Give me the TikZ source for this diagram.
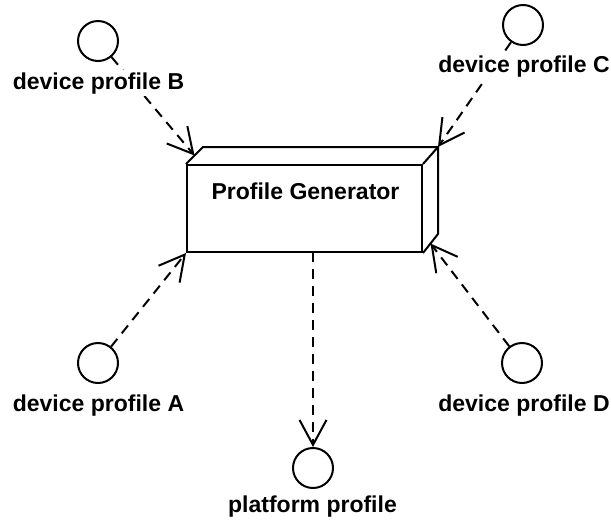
\documentclass[tikz,border=0pt]{standalone}
\usepackage{fontspec}
\setmainfont{Liberation Sans}
\usetikzlibrary{arrows.meta,calc,backgrounds}
\begin{document}
\begin{tikzpicture}[x=1pt,y=-1pt,
  every node/.style={font=\fontsize{23}{27}\selectfont\bfseries},
  iface/.style={draw,circle,line width=2pt,minimum size=40pt,inner sep=0pt},
  lbl/.style={fill=white,inner sep=2pt,anchor=base},
  dep/.style={line width=2pt,dash pattern=on 10pt off 7pt,
    -{Straight Barb[length=25pt,width=27pt,line width=2pt]}},
  edge3d/.style={line width=2pt,line join=miter}]
\useasboundingbox (0,0) rectangle (611,520);
% box
\node[draw,edge3d,fill=white,minimum width=235pt,minimum height=87pt,inner sep=0pt] (box) at (304.5,208.5) {};
\draw[edge3d] (box.north west) -- ++(17,-17) coordinate (bnw) -- ++(235,0) coordinate (bne) -- ++(0,87) coordinate (bse) -- (box.south east);
\draw[edge3d] (box.north east) -- (bne);
\node[anchor=base] (title) at (305.5,199) {Profile Generator};
% tips
\coordinate (tipB) at ($(box.north west)!0.5!(bnw)$);
\coordinate (tipD) at ($(box.south east)!0.5!(bse)$);
\coordinate (tipP) at (313,252);
% interfaces
\node[iface] (cB) at (98,41) {};
\node[iface] (cC) at (523,25) {};
\node[iface] (cA) at (98,363) {};
\node[iface] (cD) at (522,363) {};
\node[iface] (cP) at (313,468) {};
\node[lbl] (lB) at (98.5,89) {device profile B};
\node[lbl] (lC) at (524,72) {device profile C};
\node[lbl] (lA) at (98.5,411) {device profile A};
\node[lbl] (lD) at (524,411) {device profile D};
\node[lbl] (lP) at (312.5,512) {platform profile};
\begin{pgfonlayer}{background}
\draw[dep] (cB) -- (tipB);
\draw[dep] (cC) -- (bne);
\draw[dep] (cA) -- (box.south west);
\draw[dep] (cD) -- (tipD);
\draw[dep] (tipP) -- (cP);
\end{pgfonlayer}
\end{tikzpicture}
\end{document}
